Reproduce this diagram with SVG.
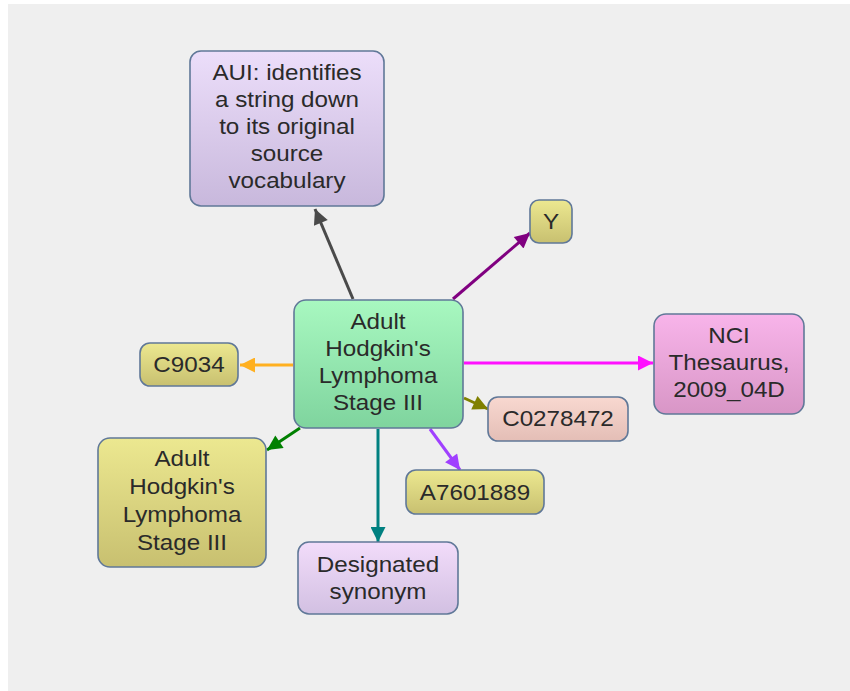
<svg xmlns="http://www.w3.org/2000/svg" width="850" height="691" viewBox="0 0 850 691">
<style>
.n{stroke:#607898;stroke-width:1.6}
.t{font-family:"Liberation Sans",Arial,sans-serif;font-size:22px;fill:#2a2a2a;text-anchor:middle}
.c{fill:none;stroke-width:3}
</style>
<defs>
<linearGradient id="gLav" x1="0" y1="0" x2="0" y2="1"><stop offset="0" stop-color="#ecdefa"/><stop offset="1" stop-color="#c8b8dc"/></linearGradient>
<linearGradient id="gGrn" x1="0" y1="0" x2="0" y2="1"><stop offset="0" stop-color="#a8f8c0"/><stop offset="1" stop-color="#7fd49e"/></linearGradient>
<linearGradient id="gKh" x1="0" y1="0" x2="0" y2="1"><stop offset="0" stop-color="#ece890"/><stop offset="1" stop-color="#c8c070"/></linearGradient>
<linearGradient id="gPk" x1="0" y1="0" x2="0" y2="1"><stop offset="0" stop-color="#f8b4ea"/><stop offset="1" stop-color="#d896c6"/></linearGradient>
<linearGradient id="gSal" x1="0" y1="0" x2="0" y2="1"><stop offset="0" stop-color="#f8d8d0"/><stop offset="1" stop-color="#e4beb6"/></linearGradient>
<linearGradient id="gDs" x1="0" y1="0" x2="0" y2="1"><stop offset="0" stop-color="#f2dcfa"/><stop offset="1" stop-color="#d2c0e2"/></linearGradient>
<marker id="mGray" viewBox="0 0 10 10" refX="10" refY="5" markerWidth="6" markerHeight="5" orient="auto" markerUnits="strokeWidth"><path d="M0,0L10,5L0,10z" fill="#4a4a4a"/></marker>
<marker id="mPur" viewBox="0 0 10 10" refX="10" refY="5" markerWidth="6" markerHeight="5" orient="auto" markerUnits="strokeWidth"><path d="M0,0L10,5L0,10z" fill="#800080"/></marker>
<marker id="mMag" viewBox="0 0 10 10" refX="10" refY="5" markerWidth="6" markerHeight="5" orient="auto" markerUnits="strokeWidth"><path d="M0,0L10,5L0,10z" fill="#ff10ff"/></marker>
<marker id="mOr" viewBox="0 0 10 10" refX="10" refY="5" markerWidth="6" markerHeight="5" orient="auto" markerUnits="strokeWidth"><path d="M0,0L10,5L0,10z" fill="#ffb020"/></marker>
<marker id="mOl" viewBox="0 0 10 10" refX="10" refY="5" markerWidth="6" markerHeight="5" orient="auto" markerUnits="strokeWidth"><path d="M0,0L10,5L0,10z" fill="#808000"/></marker>
<marker id="mVi" viewBox="0 0 10 10" refX="10" refY="5" markerWidth="6" markerHeight="5" orient="auto" markerUnits="strokeWidth"><path d="M0,0L10,5L0,10z" fill="#a040ff"/></marker>
<marker id="mTe" viewBox="0 0 10 10" refX="10" refY="5" markerWidth="6" markerHeight="5" orient="auto" markerUnits="strokeWidth"><path d="M0,0L10,5L0,10z" fill="#008080"/></marker>
<marker id="mGr" viewBox="0 0 10 10" refX="10" refY="5" markerWidth="6" markerHeight="5" orient="auto" markerUnits="strokeWidth"><path d="M0,0L10,5L0,10z" fill="#008000"/></marker>
</defs>
<rect x="0" y="0" width="850" height="691" fill="#ffffff"/>
<rect x="8" y="4" width="842" height="687" fill="#efefef"/>
<g id="connectors">
<line class="c" x1="353" y1="299" x2="315" y2="209" stroke="#4a4a4a" marker-end="url(#mGray)"/>
<line class="c" x1="453" y1="299" x2="530" y2="233" stroke="#800080" marker-end="url(#mPur)"/>
<line class="c" x1="464" y1="363" x2="653" y2="363" stroke="#ff10ff" marker-end="url(#mMag)"/>
<line class="c" x1="293" y1="365" x2="240" y2="365" stroke="#ffb020" marker-end="url(#mOr)"/>
<line class="c" x1="464" y1="398" x2="488" y2="409" stroke="#808000" marker-end="url(#mOl)"/>
<line class="c" x1="430" y1="429" x2="460" y2="470" stroke="#a040ff" marker-end="url(#mVi)"/>
<line class="c" x1="378" y1="429" x2="378" y2="542" stroke="#008080" marker-end="url(#mTe)"/>
<line class="c" x1="300" y1="428" x2="267" y2="450" stroke="#008000" marker-end="url(#mGr)"/>
</g>
<g id="aui">
<rect class="n" x="190" y="51" width="194" height="155" rx="11" fill="url(#gLav)"/>
<text class="t" transform="translate(287 80) scale(1.1 1)">AUI: identifies</text>
<text class="t" transform="translate(287 107) scale(1.1 1)">a string down</text>
<text class="t" transform="translate(287 134) scale(1.1 1)">to its original</text>
<text class="t" transform="translate(287 161) scale(1.1 1)">source</text>
<text class="t" transform="translate(287 188) scale(1.1 1)">vocabulary</text>
</g>
<g id="center">
<rect class="n" x="294" y="300" width="169" height="128" rx="12" fill="url(#gGrn)"/>
<text class="t" transform="translate(378 329) scale(1.1 1)">Adult</text>
<text class="t" transform="translate(378 356) scale(1.1 1)">Hodgkin's</text>
<text class="t" transform="translate(378 383) scale(1.1 1)">Lymphoma</text>
<text class="t" transform="translate(378 410) scale(1.1 1)">Stage III</text>
</g>
<g id="y">
<rect class="n" x="530" y="200" width="42" height="43" rx="9" fill="url(#gKh)"/>
<text class="t" transform="translate(551 229) scale(1.1 1)">Y</text>
</g>
<g id="nci">
<rect class="n" x="654" y="314" width="150" height="100" rx="12" fill="url(#gPk)"/>
<text class="t" transform="translate(729 343) scale(1.1 1)">NCI</text>
<text class="t" transform="translate(729 370) scale(1.1 1)">Thesaurus,</text>
<text class="t" transform="translate(729 397) scale(1.1 1)">2009_04D</text>
</g>
<g id="c9034">
<rect class="n" x="140" y="343" width="98" height="43" rx="10" fill="url(#gKh)"/>
<text class="t" transform="translate(189 372) scale(1.1 1)">C9034</text>
</g>
<g id="c0278472">
<rect class="n" x="488" y="397" width="140" height="44" rx="10" fill="url(#gSal)"/>
<text class="t" transform="translate(558 426) scale(1.1 1)">C0278472</text>
</g>
<g id="a7601889">
<rect class="n" x="406" y="470" width="138" height="44" rx="10" fill="url(#gKh)"/>
<text class="t" transform="translate(475 500) scale(1.1 1)">A7601889</text>
</g>
<g id="designated">
<rect class="n" x="298" y="542" width="160" height="72" rx="11" fill="url(#gDs)"/>
<text class="t" transform="translate(378 572) scale(1.1 1)">Designated</text>
<text class="t" transform="translate(378 599) scale(1.1 1)">synonym</text>
</g>
<g id="adult-left">
<rect class="n" x="98" y="438" width="168" height="129" rx="12" fill="url(#gKh)"/>
<text class="t" transform="translate(182 466) scale(1.1 1)">Adult</text>
<text class="t" transform="translate(182 494) scale(1.1 1)">Hodgkin's</text>
<text class="t" transform="translate(182 522) scale(1.1 1)">Lymphoma</text>
<text class="t" transform="translate(182 550) scale(1.1 1)">Stage III</text>
</g>
</svg>
